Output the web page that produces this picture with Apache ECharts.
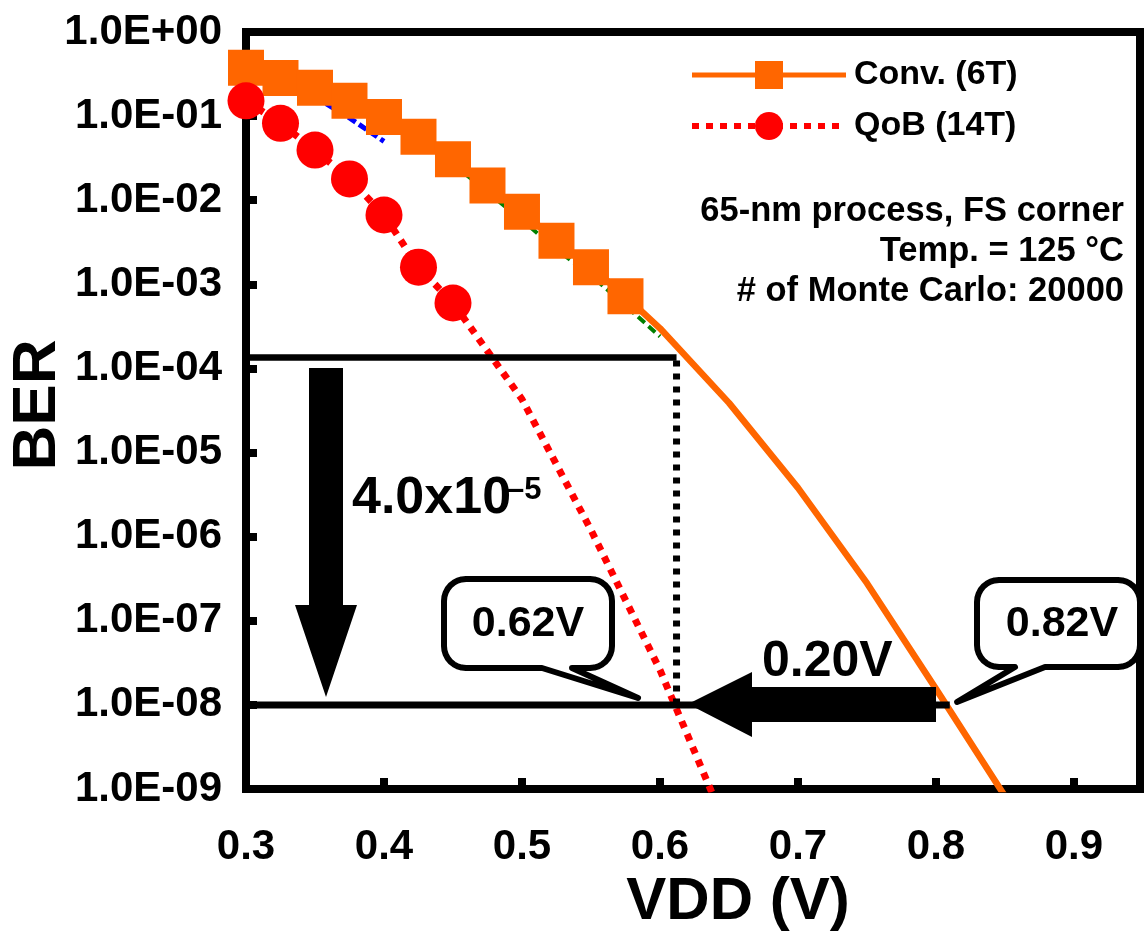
<!DOCTYPE html>
<html>
<head>
<meta charset="utf-8">
<script src="https://cdn.jsdelivr.net/npm/echarts@6/dist/echarts.min.js"></script>
<style>
html,body{margin:0;padding:0;background:#fff;}
#chart{width:1146px;height:938px;}
</style>
</head>
<body>
<div id="chart"></div>
<script>
// ---------- data ----------
const xTickLabels = ['0.3', '0.4', '0.5', '0.6', '0.7', '0.8', '0.9'];
const yTickLabels = ['1.0E+00', '1.0E-01', '1.0E-02', '1.0E-03', '1.0E-04',
                     '1.0E-05', '1.0E-06', '1.0E-07', '1.0E-08', '1.0E-09'];

const convName = 'Conv. (6T)';
const convVdd = [0.3, 0.325, 0.35, 0.375, 0.4, 0.425, 0.45, 0.475, 0.5, 0.525, 0.55, 0.575,
                 0.6, 0.65, 0.7, 0.75, 0.8, 0.85];
const convBer = [0.377, 0.284, 0.218, 0.152, 0.0975, 0.0569, 0.0307, 0.0150, 0.0073, 0.0033, 0.0016, 0.00072,
                 3.0e-4, 3.9e-5, 3.8e-6, 2.8e-7, 1.55e-8, 8.2e-10];
const convMarkedUpTo = 0.575;

const qobName = 'QoB (14T)';
const qobVdd = [0.3, 0.325, 0.35, 0.375, 0.4, 0.425, 0.45, 0.5, 0.55, 0.6, 0.65];
const qobBer = [0.152, 0.082, 0.0395, 0.0179, 0.00667, 0.0016, 0.0006, 4.3e-5, 1.2e-6, 2.6e-8, 3.0e-10];
const qobMarkedUpTo = 0.45;

const blueVdd = [0.35, 0.375, 0.4];
const blueBer = [0.17, 0.095, 0.05];

const greenVdd = [0.4, 0.425, 0.45, 0.475, 0.5, 0.525, 0.55, 0.575, 0.6];
const greenBer = [0.09, 0.052, 0.027, 0.0125, 0.0058, 0.0026, 0.00128, 0.00056, 0.00024];

// reference levels used by the annotation lines
const berHigh = 1.35e-4;
const berTarget = 1e-8;
const vddQobAtTarget = 0.612;
const vddConvLineEnd = 0.81;

const infoLines = ['65-nm process, FS corner', 'Temp. = 125 \u00B0C', '# of Monte Carlo: 20000'];

// ---------- helpers ----------
const FONT = '"Liberation Sans", Arial, Helvetica, sans-serif';
function pairs(xs, ys, markedUpTo) {
  return xs.map((x, i) => {
    const item = { value: [x, ys[i]] };
    if (markedUpTo != null && x > markedUpTo + 1e-9) item.symbol = 'none';
    return item;
  });
}
function xLabel(v) {
  const k = Math.round((v - 0.3) * 10);
  if (Math.abs(v - (0.3 + k * 0.1)) > 1e-6) return '';
  return xTickLabels[k] || '';
}
function yLabel(v) {
  const e = Math.round(-Math.log10(v));
  return yTickLabels[e] || '';
}

const chart = echarts.init(document.getElementById('chart'), null, { renderer: 'canvas' });

const axisLineStyle = { color: '#000', width: 8, cap: 'square' };

chart.setOption({
  animation: false,
  backgroundColor: '#fff',
  grid: { left: 246, right: 6.5, top: 32, bottom: 149, containLabel: false },
  legend: {
    orient: 'vertical',
    left: 684, top: 53,
    itemWidth: 154, itemHeight: 35, itemGap: 17,
    data: [
      { name: convName, lineStyle: { width: 5 } },
      { name: qobName, lineStyle: { width: 6 } }
    ],
    textStyle: { fontFamily: FONT, fontWeight: 'bold', fontSize: 34, color: '#000', padding: [0, 0, 0, 3] }
  },
  xAxis: [{
    type: 'value', position: 'bottom', min: 0.3, max: 0.9475, interval: 0.1,
    axisLine: { show: true, lineStyle: axisLineStyle },
    axisTick: { show: true, inside: true, length: 11, lineStyle: { color: '#000', width: 8 } },
    splitLine: { show: false },
    axisLabel: { formatter: xLabel, margin: 37, fontFamily: FONT, fontWeight: 'bold', fontSize: 42, color: '#000' }
  }, {
    type: 'value', position: 'top', min: 0.3, max: 0.9475,
    axisLine: { show: true, lineStyle: axisLineStyle },
    axisTick: { show: false }, axisLabel: { show: false }, splitLine: { show: false }
  }],
  yAxis: [{
    type: 'log', logBase: 10, min: 1e-9, max: 1, position: 'left',
    axisLine: { show: true, lineStyle: axisLineStyle },
    axisTick: { show: true, inside: true, length: 11, lineStyle: { color: '#000', width: 8 } },
    minorTick: { show: false },
    splitLine: { show: false },
    axisLabel: { formatter: yLabel, margin: 24, fontFamily: FONT, fontWeight: 'bold', fontSize: 42, color: '#000' }
  }, {
    type: 'log', logBase: 10, min: 1e-9, max: 1, position: 'right',
    axisLine: { show: true, lineStyle: axisLineStyle },
    axisTick: { show: false }, axisLabel: { show: false }, splitLine: { show: false }
  }],
  series: [
    {
      name: 'blue', type: 'line', data: pairs(blueVdd, blueBer), symbol: 'none',
      lineStyle: { color: '#0000FF', width: 5, type: [9, 4] }, z: 1, silent: true
    },
    {
      name: 'green', type: 'line', data: pairs(greenVdd, greenBer), symbol: 'none',
      lineStyle: { color: '#008000', width: 4, type: [9, 5] }, z: 1, silent: true
    },
    {
      name: convName, type: 'line', data: pairs(convVdd, convBer, convMarkedUpTo),
      symbol: 'rect', symbolSize: 36, showAllSymbol: true,
      itemStyle: { color: '#FF6600' },
      lineStyle: { color: '#FF6600', width: 6.5 },
      z: 2
    },
    {
      name: qobName, type: 'line', data: pairs(qobVdd, qobBer, qobMarkedUpTo),
      symbol: 'circle', symbolSize: 37, showAllSymbol: true,
      itemStyle: { color: '#FF0000' },
      lineStyle: { color: '#FF0000', width: 7, type: [7, 7] },
      z: 3
    }
  ]
});

// ---------- annotations ----------
function px(x, y) { return chart.convertToPixel({ gridIndex: 0 }, [x, y]); }
function arcPts(cx, cy, r, a0, a1) {
  const pts = [];
  const n = 8;
  for (let i = 0; i <= n; i++) {
    const a = a0 + (a1 - a0) * i / n;
    pts.push([cx + r * Math.cos(a), cy + r * Math.sin(a)]);
  }
  return pts;
}
function callout(x0, y0, x1, y1, r, bR, tip, bL) {
  const P = Math.PI;
  let pts = [];
  pts = pts.concat(arcPts(x0 + r, y0 + r, r, P, 1.5 * P));
  pts = pts.concat(arcPts(x1 - r, y0 + r, r, 1.5 * P, 2 * P));
  pts = pts.concat(arcPts(x1 - r, y1 - r, r, 0, 0.5 * P));
  pts.push([bR, y1], tip, [bL, y1]);
  pts = pts.concat(arcPts(x0 + r, y1 - r, r, 0.5 * P, P));
  return pts;
}
function txt(x, y, text, size, align, rot) {
  const el = {
    type: 'text', z: 120, x: x, y: y,
    style: { x: 0, y: 0, text: text, fill: '#000', font: 'bold ' + size + 'px ' + FONT,
             align: align || 'center', verticalAlign: 'middle' }
  };
  if (rot) el.rotation = rot;
  return el;
}
function seg(a, b, w, dash) {
  return { type: 'line', z: 105, shape: { x1: a[0], y1: a[1], x2: b[0], y2: b[1] },
           style: { stroke: '#000', lineWidth: w, lineDash: dash || null } };
}

const pHighL = px(0.3, berHigh), pHighR = px(vddQobAtTarget, berHigh);
const pTgtL = px(0.3, berTarget), pTgtQ = px(vddQobAtTarget, berTarget), pTgtR = px(vddConvLineEnd, berTarget);

const graphics = [
  seg(pHighL, pHighR, 6.5),
  seg([pHighR[0], pHighR[1] + 3], pTgtQ, 7, [6, 7]),
  seg(pTgtL, pTgtR, 7),
  // down arrow
  { type: 'polygon', z: 110, shape: { points: [[309, 368], [343, 368], [343, 605], [357, 605], [326, 697], [295, 605], [309, 605]] },
    style: { fill: '#000' } },
  // left arrow
  { type: 'polygon', z: 110, shape: { points: [[688, 704], [752, 672], [752, 687], [936, 687], [936, 722], [752, 722], [752, 737]] },
    style: { fill: '#000' } },
  // callouts
  { type: 'polygon', z: 110, shape: { points: callout(444, 579, 612, 668, 22, 572, [638, 698], 542) },
    style: { fill: '#fff', stroke: '#000', lineWidth: 6, lineJoin: 'round' } },
  { type: 'polygon', z: 110, shape: { points: callout(977, 580, 1140, 667, 22, 1045, [957, 702], 1015) },
    style: { fill: '#fff', stroke: '#000', lineWidth: 6, lineJoin: 'round' } },
  txt(528, 624, '0.62V', 43),
  txt(1062, 624, '0.82V', 43),
  txt(762, 662, '0.20V', 50, 'left'),
  txt(352, 499, '4.0x10', 52, 'left'),
  txt(507, 490, '\u20135', 31, 'left'),
  // axis titles
  txt(738, 902, 'VDD (V)', 60),
  txt(38, 405, 'BER', 62, 'center', Math.PI / 2)
];
infoLines.forEach((t, i) => graphics.push(txt(1124, 211 + i * 40, t, 34.5, 'right')));

chart.setOption({ graphic: graphics });
</script>
</body>
</html>
